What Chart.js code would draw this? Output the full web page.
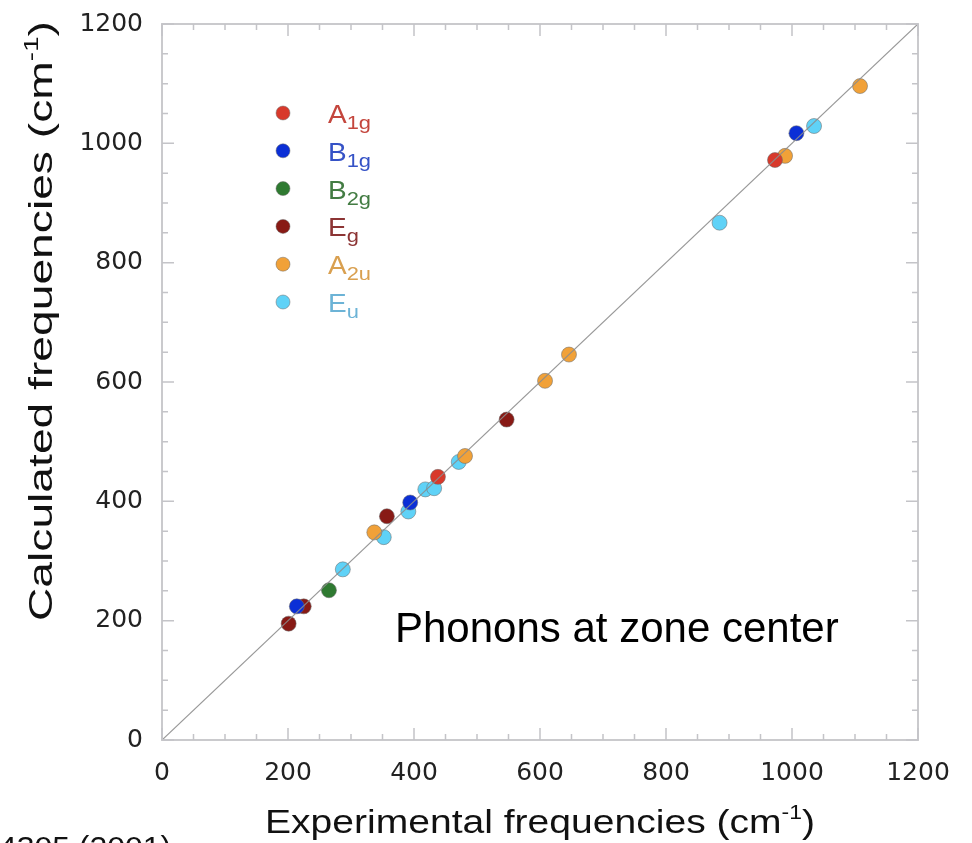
<!DOCTYPE html>
<html><head><meta charset="utf-8">
<script src="https://cdn.jsdelivr.net/npm/chart.js@4/dist/chart.umd.min.js"></script>
<style>html,body{margin:0;padding:0;background:#fff;overflow:hidden}#wrap{width:972px;height:843px;position:relative}</style>
</head><body><div id="wrap"><canvas id="c" width="972" height="843"></canvas></div>
<script>
// ---- data (experimental, calculated) in cm^-1 ----
const A1g_exp = [438, 973];
const A1g_calc = [441, 972];
const B1g_exp = [214, 394, 1007];
const B1g_calc = [224, 398, 1017];
const B2g_exp = [265];
const B2g_calc = [251];
const Eg_exp = [201, 225, 357, 547];
const Eg_calc = [195, 224, 375, 537];
const A2u_exp = [337, 481, 608, 646, 989, 1108];
const A2u_calc = [348, 476, 602, 646, 979, 1096];
const Eu_exp = [287, 352, 391, 418, 432, 471, 885, 1035];
const Eu_calc = [286, 340, 383, 420, 422, 466, 867, 1029];
const seriesMain = ['A', 'B', 'B', 'E', 'A', 'E'];
const seriesSub = ['1g', '1g', '2g', 'g', '2u', 'u'];
const tickValues = [0, 200, 400, 600, 800, 1000, 1200];
const diagonal = [0, 1200];

const markerColors = ['#d8392b', '#0b2fd6', '#2f7a31', '#881a15', '#f1a138', '#5fd2f7'];
const textColors = ['#c4463d', '#3552c6', '#437c43', '#8c3434', '#d9a050', '#6cb3d6'];
const FONT = '"Liberation Sans", Arial, Helvetica, sans-serif';

function pts(xs, ys) { return xs.map((x, i) => ({ x: x, y: ys[i] })); }
const groups = [[A1g_exp, A1g_calc], [B1g_exp, B1g_calc], [B2g_exp, B2g_calc], [Eg_exp, Eg_calc], [A2u_exp, A2u_calc], [Eu_exp, Eu_calc]];

const datasets = [{
  type: 'line', label: 'y=x', data: diagonal.map(v => ({ x: v, y: v })),
  borderColor: 'rgba(140,140,140,0.9)', borderWidth: 1.2, pointRadius: 0, order: 0
}];
groups.forEach((g, i) => {
  datasets.push({
    type: 'scatter', label: seriesMain[i] + seriesSub[i], data: pts(g[0], g[1]),
    backgroundColor: markerColors[i], borderColor: 'rgba(110,110,110,0.55)', borderWidth: 1,
    pointRadius: 7.5, order: 1
  });
});

// draw text stretched horizontally (in text direction) by factor sx
function stretchText(ctx, text, x, y, font, sx) {
  ctx.save();
  ctx.font = font;
  ctx.translate(x, y); ctx.scale(sx, 1);
  ctx.fillText(text, 0, 0);
  const w = ctx.measureText(text).width * sx;
  ctx.restore();
  return w;
}

const decor = {
  id: 'decor',
  afterDraw(chart) {
    const ctx = chart.ctx, a = chart.chartArea;
    const xs = chart.scales.x, ys = chart.scales.y;
    ctx.save();
    // frame
    ctx.strokeStyle = '#cacacd'; ctx.lineWidth = 2;
    ctx.strokeRect(a.left, a.top, a.right - a.left, a.bottom - a.top);
    // inward ticks every 50
    ctx.lineWidth = 1.5; ctx.strokeStyle = '#c4c4c8';
    for (let v = 0; v <= 1200; v += 50) {
      const major = v % 200 === 0;
      const L = major ? 12 : 6;
      const px = xs.getPixelForValue(v), py = ys.getPixelForValue(v);
      ctx.beginPath();
      ctx.moveTo(px, a.bottom); ctx.lineTo(px, a.bottom - L);
      ctx.moveTo(px, a.top); ctx.lineTo(px, a.top + L);
      ctx.moveTo(a.left, py); ctx.lineTo(a.left + L, py);
      ctx.moveTo(a.right, py); ctx.lineTo(a.right - L, py);
      ctx.stroke();
    }
    // legend
    const lx = 283, tx = 328, y0 = 113, dy = 37.8;
    ctx.textBaseline = 'alphabetic'; ctx.textAlign = 'left';
    for (let i = 0; i < 6; i++) {
      const cy = y0 + i * dy;
      ctx.beginPath(); ctx.arc(lx, cy, 7, 0, Math.PI * 2);
      ctx.fillStyle = markerColors[i]; ctx.fill();
      ctx.strokeStyle = 'rgba(110,110,110,0.5)'; ctx.lineWidth = 1; ctx.stroke();
      ctx.fillStyle = textColors[i];
      const w = stretchText(ctx, seriesMain[i], tx, cy + 10, '25px ' + FONT, 1.12);
      stretchText(ctx, seriesSub[i], tx + w, cy + 16, '19px ' + FONT, 1.15);
    }
    // annotation
    ctx.fillStyle = '#000'; ctx.font = '42px ' + FONT;
    ctx.fillText('Phonons at zone center', 395, 642);
    // axis titles with superscript, fitted to a target length
    function titled(main, cx, y, size, targetLen) {
      ctx.font = size + 'px ' + FONT;
      const w1 = ctx.measureText(main).width;
      const ss = Math.round(size * 0.6);
      ctx.font = ss + 'px ' + FONT;
      const w2 = ctx.measureText('-1').width;
      ctx.font = size + 'px ' + FONT;
      const w3 = ctx.measureText(')').width;
      const sx = targetLen / (w1 + w2 + w3);
      let x = cx - targetLen / 2;
      x += stretchText(ctx, main, x, y, size + 'px ' + FONT, sx);
      x += stretchText(ctx, '-1', x, y - size * 0.42, ss + 'px ' + FONT, sx);
      stretchText(ctx, ')', x, y, size + 'px ' + FONT, sx);
    }
    ctx.fillStyle = '#111'; ctx.textAlign = 'left'; ctx.textBaseline = 'alphabetic';
    titled('Experimental frequencies (cm', 540, 833, 34, 550);
    ctx.save();
    ctx.translate(52, 321); ctx.rotate(-Math.PI / 2);
    titled('Calculated frequencies (cm', 0, 0, 33, 600);
    ctx.restore();
    // clipped citation
    ctx.fillStyle = '#111'; ctx.textBaseline = 'top';
    const cit = 'Phys. Rev. B 64, 054305 (2001)';
    ctx.font = '29px ' + FONT;
    const cw = ctx.measureText(cit).width * 1.1;
    stretchText(ctx, cit, 171 - cw, 834, '29px ' + FONT, 1.1);
    ctx.restore();
  }
};

new Chart(document.getElementById('c'), {
  data: { datasets: datasets },
  options: {
    responsive: false, animation: false, devicePixelRatio: 1,
    layout: { padding: { left: 0, right: 54, top: 24, bottom: 0 } },
    plugins: { legend: { display: false }, tooltip: { enabled: false } },
    scales: {
      x: {
        type: 'linear', min: 0, max: 1200,
        afterFit(s) { s.height = 103; s.paddingLeft = 0; s.paddingRight = 0; },
        afterBuildTicks(s) { s.ticks = tickValues.map(v => ({ value: v })); },
        grid: { display: false, drawTicks: false }, border: { display: false },
        ticks: { color: '#222', font: { family: '"DejaVu Sans", sans-serif', size: 25 }, padding: 18, maxRotation: 0,
          callback: v => String(v) }
      },
      y: {
        type: 'linear', min: 0, max: 1200,
        afterFit(s) { s.width = 162; s.paddingTop = 0; s.paddingBottom = 0; },
        afterBuildTicks(s) { s.ticks = tickValues.map(v => ({ value: v })); },
        grid: { display: false, drawTicks: false }, border: { display: false },
        ticks: { color: '#222', font: { family: '"DejaVu Sans", sans-serif', size: 25 }, padding: 19,
          callback: v => String(v) }
      }
    }
  },
  plugins: [decor]
});
</script></body></html>
